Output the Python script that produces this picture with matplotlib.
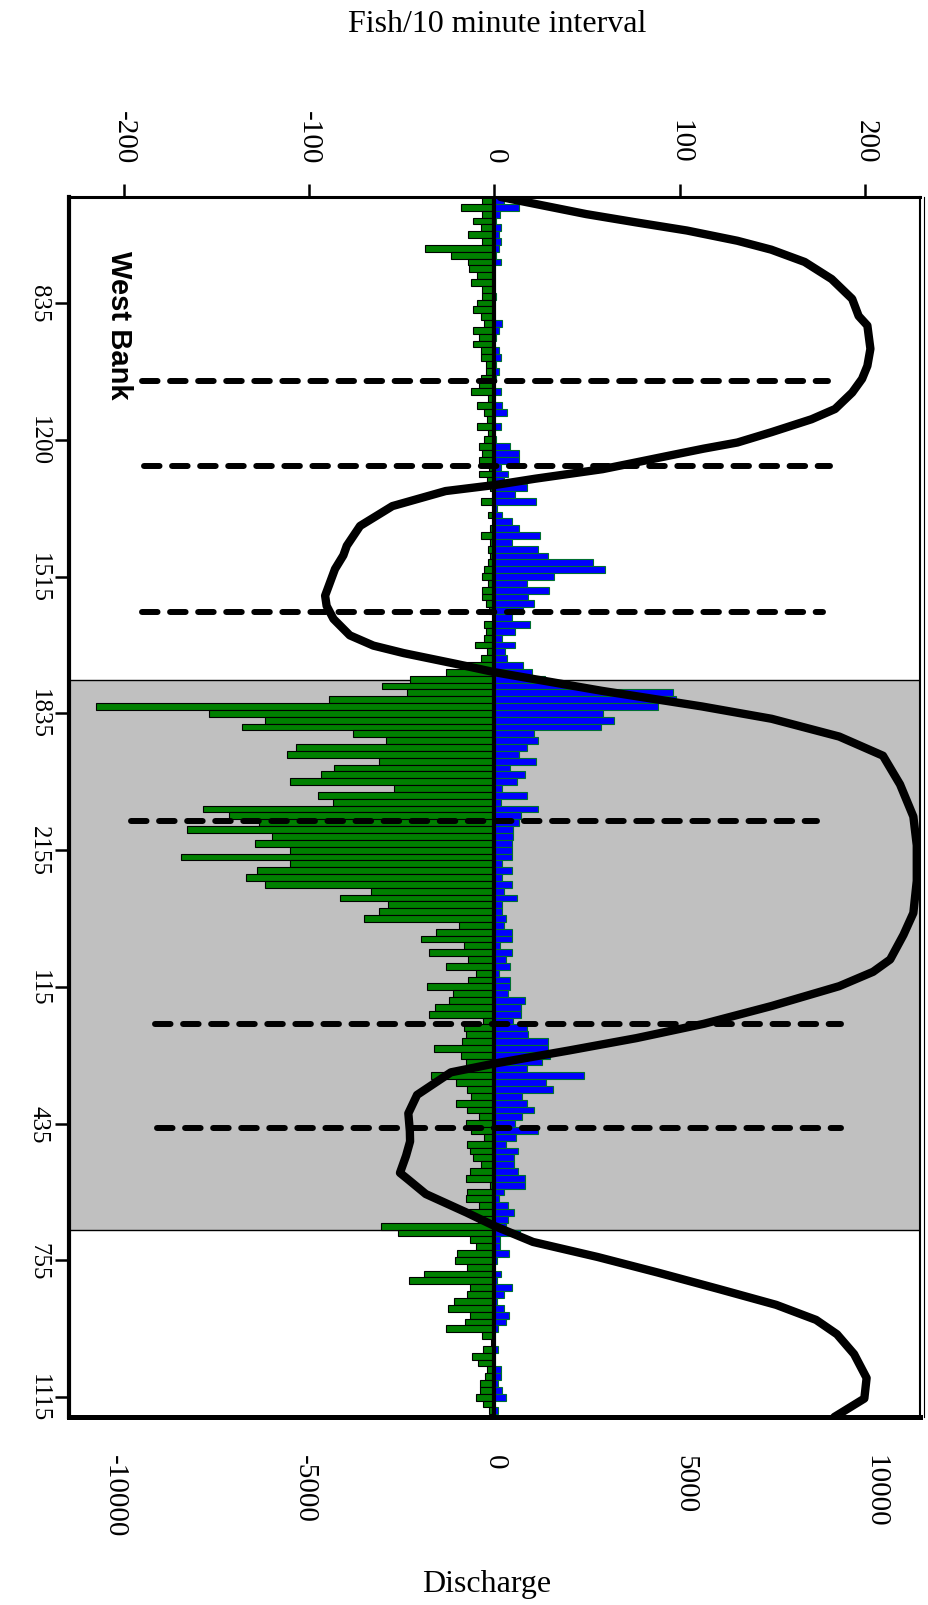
import matplotlib
matplotlib.use('Agg')
import matplotlib.pyplot as plt
from matplotlib.lines import Line2D
import numpy as np

plt.rcParams['font.family'] = 'Liberation Serif'
plt.rcParams['axes.unicode_minus'] = False

# fish per 10 minute interval (green = downstream, negative; blue = upstream)
fish_down = [
    -7, -18, -6.5, -11.5, -7.4, -14.5, -7, -37.4, -23.5, -14.5,
    -13.7, -9.3, -12.4, -6.5, -6.5, -9.3, -11.5, -7.4, -5.4, -11.5,
    -8.4, -11.5, -7.4, -7.4, -4.5, -4.5, -7.4, -8.4, -12.6, -3.4,
    -9.3, -5.4, -4.3, -9.3, -3.4, -5.4, -8.3, -6.5, -8.3, -3,
    -8.3, -4.3, -2.5, 0, -7.4, -0.7, -3.4, -1, -2.5, -7.4,
    -2.2, -3.4, -2.5, -3.4, -5.4, -6.5, -3.4, -6.5, -6.5, -4.5,
    -3, -1, -5.4, -4.5, -5.4, -10.4, -4.3, -7.4, -17.4, -26.4,
    -45.3, -60.4, -47.4, -89.3, -215, -154, -124, -136, -76.4, -58.4,
    -107, -112, -62.4, -86.4, -93.3, -110, -54.4, -95.2, -87.3, -157,
    -143, -127, -166, -120, -129, -110, -169, -110, -128, -134,
    -124, -66.5, -83.4, -57.3, -62.4, -70.4, -19.4, -31.4, -39.4, -16.4,
    -35.4, -14.4, -26.4, -10.2, -14.4, -36.5, -22.5, -24.4, -32.3, -35.4,
    -6.3, -16.4, -15.5, -17.3, -32.5, -18.3, -15.5, -13, -34.5, -20.5,
    -14.6, -12.4, -20.5, -14.6, -8.3, -15.5, -12.4, -5.6, -14.6, -13.3,
    -11.5, -7.4, -13.3, -15.5, -2.5, -14.6, -15.5, -8.3, -14, -9,
    -61.2, -52, -13, -10, -20.2, -21.1, -15, -38, -46, -13,
    -15, -22, -25, -13, -16, -26, -7, -2, -6, -12,
    -9, -4, -5, -8, -8, -10, -6, -3,
]
fish_up = [
    5, 13, 3, 1, 3.4, 2.3, 3.4, 2.3, 1, 3.4,
    0, 0, 0, 0, 1, 0, 0, 0, 4.3, 2.3,
    1, 0, 2.3, 3.4, 1, 2.3, 1, 0, 3.4, 0,
    4.3, 6.5, 0, 3.4, 0, 1, 8.3, 13.3, 13.3, 3.4,
    7.4, 5, 17.3, 11.3, 22.3, 1.4, 4.3, 9.3, 13.3, 24.4,
    9.3, 23.5, 28.6, 53.2, 59.5, 32.3, 17.3, 29.5, 18.3, 21.4,
    15.5, 9.3, 19.4, 11.3, 4.3, 11.3, 5.4, 6.5, 15.5, 20.3,
    27, 40, 96, 98, 88, 58.6, 64.5, 57.3, 21.4, 23.5,
    17.4, 13.3, 22.5, 8.4, 16.5, 12.4, 4.3, 17.4, 3.4, 23.5,
    14.4, 13, 10, 10, 9.3, 9.3, 9.3, 4.3, 9.3, 4.3,
    9.3, 5.2, 12.4, 4.3, 4.3, 6.3, 5.2, 9.3, 9.3, 3.2,
    9.3, 6.3, 8.3, 2.2, 8.3, 8.3, 7.4, 16.4, 14.4, 14.4,
    10, 17.3, 18.2, 28.6, 29, 29.7, 25.5, 17.5, 48.5, 27.7,
    31.5, 14.6, 17.5, 21.5, 14.6, 11, 23.7, 11.5, 6.4, 12.6,
    10.4, 10.4, 12.6, 16.6, 16.6, 5.3, 2.2, 7.3, 10.4, 7.3,
    6, 13.5, 2.8, 2.8, 7.6, 1.5, 0, 3.4, 1.5, 9.5,
    5.2, 1.5, 5.2, 7.6, 6.4, 2.1, 0, 0, 2.1, 0,
    0, 3.4, 3.4, 2.1, 4.3, 6.4, 0, 2.1,
]

time_ticks = [15, 35, 55, 75, 95, 115, 135, 155, 175]
time_labels = ['835', '1200', '1515', '1835', '2155', '115', '435', '755', '1115']

# river discharge along the same interval index
q_pos = [-0.5, 0.0, 1.0, 2.0, 3.2, 4.4, 5.9, 7.2, 9.0, 11.5, 14.4, 16.9, 18.3,
         21.7, 24.2, 26.1, 28.1, 30.5, 32.0, 33.9, 35.4, 36.3, 37.3, 38.3,
         39.3, 40.0, 40.7, 41.6, 42.5, 44.7, 47.6, 50.5, 51.9, 53.9, 57.8,
         59.3, 61.2, 63.6, 65.1, 66.2, 67.8, 69.0, 71.7, 74.0, 75.8, 78.4,
         81.2, 85.4, 90.1, 94.3, 99.5, 104.2, 107.4, 111.0, 112.8, 114.9,
         117.8, 120.4, 122.5, 124.3, 126.2, 127.5, 130.8, 133.5, 136.1,
         137.6, 139.7, 142.2, 143.1, 145.3, 148.0, 150.0, 152.3, 154.5,
         156.8, 159.2, 161.5, 163.7, 165.8, 168.7, 172.2, 175.2, 177.9]
q_val = [150, 600, 1500, 2400, 3700, 5050, 6380, 7270, 8150, 8860, 9400, 9570, 9800,
         9880, 9800, 9660, 9400, 8950, 8330, 7270, 6380, 5490, 4600, 3720,
         2830, 1940, 1050, 20, -1300, -2700, -3550, -3900, -3990, -4210, -4470,
         -4430, -4250, -3820, -3200, -2400, -1000, 0, 2800, 5450, 7280, 9060,
         10210, 10660, 11010, 11100, 11100, 11010, 10750, 10400, 9950, 9060,
         7280, 5500, 3720, 1950, 0, -1160, -2050, -2280, -2240,
         -2234, -2340, -2500, -2300, -1820, -750, 0, 1000, 2700,
         4300, 5900, 7400, 8450, 9000, 9450, 9780, 9720, 8930]

# dashed markers: interval position and span on the fish scale
event_pos = [26.4, 38.8, 60.2, 90.8, 120.4, 135.6]
event_lo = [-190, -189, -190, -196, -183, -182]
event_hi = [180, 181, 177, 174, 187, 187]

night_start, night_end = 70.2, 150.5

idx = np.arange(len(fish_down))

fig = plt.figure(figsize=(9.29, 16.06), dpi=100)
ax = fig.add_axes([69 / 929, 1 - 1418 / 1606, 851 / 929, 1220 / 1606])
# discharge on a second horizontal scale sharing the time axis
ax2 = ax.twiny()

ax.axhspan(night_start, night_end, facecolor='#c0c0c0', edgecolor='black', lw=1.0, zorder=0)

ax.barh(idx, fish_down, height=1.0, color='#008000', edgecolor='black', lw=0.8, zorder=2)
ax.barh(idx, fish_up, height=1.0, color='#0000ff', edgecolor='#007030', lw=0.8, zorder=2)

for y, lo, hi in zip(event_pos, event_lo, event_hi):
    ax.plot([lo, hi], [y, y], color='black', lw=4.3, linestyle=(0, (2.6, 2.1)),
            dash_capstyle='round', zorder=3)

ax.axvline(0, color='black', lw=3, zorder=4)

ax.text(-202.5, 18.1, 'West Bank', rotation=270, ha='center', va='center',
        fontsize=21, fontweight='bold', family='Liberation Sans', zorder=5)

ax.set_xlim(-229.4, 229.4)
ax.set_ylim(177.9, -0.5)
ax.set_yticks(time_ticks)
ax.set_yticklabels(time_labels)
ax.tick_params(axis='y', direction='out', length=10, width=1.8, pad=4,
               labelsize=18, labelrotation=270)
for t in ax.get_yticklabels():
    t.set_verticalalignment('center')

ax.xaxis.tick_top()
ax.set_xticks([-200, -100, 0, 100, 200])
ax.tick_params(axis='x', direction='out', length=9.5, width=1.8, pad=15,
               labelsize=21, labelrotation=270)

ax.spines['left'].set_linewidth(3.0)
ax.spines['bottom'].set_linewidth(3.6)
ax.spines['top'].set_linewidth(2.2)
ax.spines['right'].set_linewidth(1.5)

ax2.plot(q_val, q_pos, color='black', lw=6, solid_joinstyle='round',
         solid_capstyle='round', zorder=6)
ax2.set_xlim(-11210, 11185)
ax2.xaxis.tick_bottom()
ax2.set_xticks([-10000, -5000, 0, 5000, 10000])
ax2.tick_params(axis='x', length=0, pad=27, labelsize=21, labelrotation=270)
for s in ax2.spines.values():
    s.set_visible(False)

fig.add_artist(Line2D([924 / 929, 924 / 929], [1 - 1418 / 1606, 1 - 198 / 1606],
                      transform=fig.transFigure, color='black', lw=0.8))

fig.text(497 / 929, 1 - 24 / 1606, 'Fish/10 minute interval', ha='center', va='center', fontsize=23)
fig.text(487 / 929, 1 - 1585 / 1606, 'Discharge', ha='center', va='center', fontsize=23)

fig.savefig('out.png', dpi=100)
